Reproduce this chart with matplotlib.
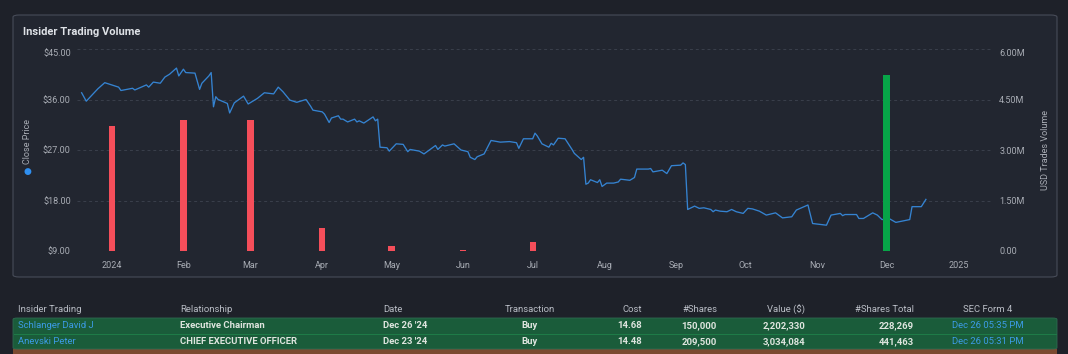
import matplotlib
matplotlib.use("Agg")
import matplotlib.pyplot as plt
import matplotlib.dates as mdates
from matplotlib.patches import FancyBboxPatch, Rectangle
from matplotlib.ticker import FuncFormatter, FixedLocator
import pandas as pd

plt.rcParams.update({"font.family": ["Roboto", "DejaVu Sans"], "font.size": 6})

# ---- data ----
price_dates = [
    "2023-12-19", "2023-12-21", "2023-12-26", "2023-12-29", "2024-01-04", "2024-01-05",
    "2024-01-10", "2024-01-11", "2024-01-16", "2024-01-17", "2024-01-19", "2024-01-22",
    "2024-01-24", "2024-01-26", "2024-01-29", "2024-01-30", "2024-02-01", "2024-02-02",
    "2024-02-06", "2024-02-08", "2024-02-09", "2024-02-12", "2024-02-13", "2024-02-14",
    "2024-02-15", "2024-02-16", "2024-02-20", "2024-02-21", "2024-02-23", "2024-02-27",
    "2024-02-29", "2024-03-04", "2024-03-07", "2024-03-11", "2024-03-13", "2024-03-15",
    "2024-03-18", "2024-03-21", "2024-03-25", "2024-03-27", "2024-03-28", "2024-04-01",
    "2024-04-02", "2024-04-04", "2024-04-05", "2024-04-08", "2024-04-09", "2024-04-10",
    "2024-04-12", "2024-04-15", "2024-04-16", "2024-04-17", "2024-04-19", "2024-04-23",
    "2024-04-24", "2024-04-25", "2024-04-26", "2024-04-29", "2024-04-30", "2024-05-03",
    "2024-05-06", "2024-05-08", "2024-05-09", "2024-05-13", "2024-05-15", "2024-05-20",
    "2024-05-21", "2024-05-23", "2024-05-24", "2024-05-28", "2024-05-31", "2024-06-03",
    "2024-06-04", "2024-06-06", "2024-06-07", "2024-06-10", "2024-06-13", "2024-06-17",
    "2024-06-21", "2024-06-24", "2024-06-25", "2024-06-27", "2024-07-01", "2024-07-02",
    "2024-07-03", "2024-07-05", "2024-07-08", "2024-07-09", "2024-07-10", "2024-07-12",
    "2024-07-15", "2024-07-18", "2024-07-19", "2024-07-22", "2024-07-23", "2024-07-24",
    "2024-07-25", "2024-07-26", "2024-07-29", "2024-07-30", "2024-07-31", "2024-08-02",
    "2024-08-05", "2024-08-07", "2024-08-08", "2024-08-12", "2024-08-14", "2024-08-15",
    "2024-08-20", "2024-08-21", "2024-08-22", "2024-08-26", "2024-08-28", "2024-08-30",
    "2024-09-03", "2024-09-04", "2024-09-05", "2024-09-06", "2024-09-09", "2024-09-11",
    "2024-09-13", "2024-09-16", "2024-09-17", "2024-09-18", "2024-09-20", "2024-09-23",
    "2024-09-25", "2024-09-27", "2024-09-30", "2024-10-02", "2024-10-04", "2024-10-07",
    "2024-10-10", "2024-10-14", "2024-10-17", "2024-10-21", "2024-10-23", "2024-10-28",
    "2024-10-30", "2024-11-01", "2024-11-05", "2024-11-07", "2024-11-11", "2024-11-12",
    "2024-11-13", "2024-11-18", "2024-11-19", "2024-11-21", "2024-11-25", "2024-11-27",
    "2024-11-29", "2024-12-02", "2024-12-05", "2024-12-11", "2024-12-12", "2024-12-16",
    "2024-12-18",
]
close_price = [
    37.2, 35.7, 37.9, 39.0, 38.2, 37.6,
    38.0, 37.7, 38.6, 38.2, 39.1, 38.9,
    40.0, 40.5, 41.6, 40.2, 41.4, 40.8,
    40.7, 37.8, 38.9, 40.2, 40.8, 34.7,
    36.5, 36.0, 35.3, 33.6, 35.4, 36.6,
    35.2, 36.2, 37.2, 37.0, 38.2, 37.4,
    35.9, 35.5, 36.0, 34.8, 34.1, 33.8,
    33.4, 31.9, 32.7, 33.1, 32.5, 32.5,
    32.0, 32.5, 32.0, 32.2, 31.8, 32.9,
    32.2, 32.5, 27.5, 27.4, 26.8, 28.1,
    28.0, 26.7, 27.1, 26.8, 26.3, 27.8,
    27.1, 27.9, 27.7, 28.1, 27.0, 26.7,
    25.7, 25.3, 25.8, 26.3, 28.7, 28.4,
    28.5, 28.3, 27.3, 29.0, 29.0, 30.0,
    29.5, 28.1, 27.5, 28.2, 27.9, 29.1,
    29.0, 27.1, 26.4, 25.3, 25.7, 20.9,
    21.1, 21.7, 21.2, 21.7, 20.5, 21.1,
    21.1, 21.3, 21.8, 21.6, 22.1, 23.6,
    23.6, 23.7, 23.1, 23.4, 22.8, 24.2,
    24.3, 24.7, 24.4, 16.4, 17.0, 16.6,
    16.7, 16.4, 16.0, 16.3, 16.1, 16.0,
    16.4, 16.0, 15.7, 16.6, 16.5, 16.1,
    15.4, 15.8, 14.9, 15.1, 16.3, 17.2,
    13.9, 13.8, 13.6, 15.4, 15.7, 15.3,
    15.5, 15.5, 14.8, 14.8, 15.8, 15.4,
    14.6, 14.8, 14.1, 14.6, 16.9, 16.9,
    18.2,
]
vol_months = ["2024-01-01", "2024-02-01", "2024-03-01", "2024-04-01", "2024-05-01",
              "2024-06-01", "2024-07-01", "2024-11-01", "2024-12-01"]
vol_usd = [3.71e6, 3.89e6, 3.89e6, 0.69e6, 0.15e6, 0.04e6, 0.27e6, 0.01e6, 5.24e6]
vol_side = ["sell", "sell", "sell", "sell", "sell", "sell", "sell", "sell", "buy"]

headers = ["Insider Trading", "Relationship", "Date", "Transaction", "Cost",
           "#Shares", "Value ($)", "#Shares Total", "SEC Form 4"]
insiders = ["Schlanger David J", "Anevski Peter"]
relationships = ["Executive Chairman", "CHIEF EXECUTIVE OFFICER"]
trade_dates = ["Dec 26 '24", "Dec 23 '24"]
transactions = ["Buy", "Buy"]
costs = ["14.68", "14.48"]
n_shares = ["150,000", "209,500"]
values_usd = ["2,202,330", "3,034,084"]
shares_total = ["228,269", "441,463"]
sec_forms = ["Dec 26 05:35 PM", "Dec 26 05:31 PM"]

W, H = 1068, 354
BG = "#1e2129"
PANEL = "#222630"
EDGE = "#474c58"
TICK = "#a9adb5"
GRID = "#3a3f4b"
RED = "#f54e5a"
GREEN = "#07a548"
BLUE = "#3583d1"

fx = lambda x: x / W
fy = lambda y: 1 - y / H

fig = plt.figure(figsize=(W / 100, H / 100), dpi=100, facecolor=BG)

# card behind the chart
fig.patches.append(FancyBboxPatch((fx(13), fy(277)), fx(1057) - fx(13), fy(15) - fy(277),
                                  boxstyle="round,pad=0,rounding_size=0.006",
                                  transform=fig.transFigure, fc=PANEL, ec=EDGE, lw=0.8,
                                  zorder=-5))
fig.text(fx(23), fy(32), "Insider Trading Volume", color="#dfe2e7", fontsize=8,
         fontweight="bold", va="center", ha="left")

ax = fig.add_axes([fx(77), fy(251), fx(993) - fx(77), fy(49) - fy(251)])
ax.set_facecolor("none")
ax.plot(pd.to_datetime(price_dates), close_price, color=BLUE, lw=0.95, zorder=2)
ax.set_ylim(9, 45)
ax.set_xlim(pd.Timestamp("2023-12-17"), pd.Timestamp("2025-01-16"))
ax.yaxis.set_major_locator(FixedLocator([9, 18, 27, 36, 45]))
ax.yaxis.set_major_formatter(FuncFormatter(lambda v, p: f"${v:.2f}"))
ax.grid(axis="y", color=GRID, ls=(0, (3, 3)), lw=0.7)
ax.xaxis.set_major_locator(mdates.MonthLocator())
ax.xaxis.set_major_formatter(FuncFormatter(
    lambda v, p: mdates.num2date(v).strftime("%Y" if mdates.num2date(v).month == 1 else "%b")))

ax2 = ax.twinx()
ax2.set_facecolor("none")
ax2.bar(pd.to_datetime(vol_months), vol_usd, width=2.7,
        color=[GREEN if s == "buy" else RED for s in vol_side], zorder=3)
ax2.set_ylim(0, 6e6)
ax2.yaxis.set_major_locator(FixedLocator([0, 1.5e6, 3e6, 4.5e6, 6e6]))
ax2.yaxis.set_major_formatter(FuncFormatter(lambda v, p: "0.00" if v == 0 else f"{v / 1e6:.2f}M"))

for a in (ax, ax2):
    for s in a.spines.values():
        s.set_visible(False)
    a.tick_params(length=0, colors=TICK, labelsize=6.5)
ax.tick_params(axis="x", pad=7.5)
ax.tick_params(axis="y", pad=4.5)
ax2.tick_params(axis="y", pad=4.5)
# top labels sit just under their gridline, as in the reference
ax.yaxis.get_major_ticks()[-1].label1.set_va("top")
ax2.yaxis.get_major_ticks()[-1].label2.set_va("top")

# axis titles
fig.text(fx(27), fy(141), "Close Price", rotation=90, color=TICK, fontsize=6.5,
         ha="center", va="center")
fig.text(fx(27), fy(171), "\u25cf", color="#2f8ff0", fontsize=6.5, ha="center", va="center")
fig.text(fx(1045), fy(150), "USD Trades Volume", rotation=90, color=TICK, fontsize=6.5,
         ha="center", va="center")

# ---- insider table ----
col_x = [18, 180, 383, 530, 642, 717, 805, 914, 988]
col_ha = ["left", "left", "left", "center", "right", "right", "right", "right", "center"]
for x, h, t in zip(col_x, col_ha, headers):
    fig.text(fx(x), fy(310), t, color="#b9bdc5", fontsize=6.8, ha=h, va="center")

fig.patches.append(Rectangle((fx(13), fy(354)), fx(1057) - fx(13), fy(349) - fy(354),
                             transform=fig.transFigure, fc="#7b4a30", ec="none", zorder=-5))
fig.patches.append(FancyBboxPatch((fx(13), fy(349)), fx(1057) - fx(13), fy(318) - fy(349),
                                  boxstyle="round,pad=0,rounding_size=0.004",
                                  transform=fig.transFigure, fc="#1a5c3a", ec="#2f6a50", lw=0.6,
                                  zorder=-5))
fig.lines.append(plt.Line2D([fx(14), fx(1056)], [fy(333.5)] * 2, transform=fig.transFigure,
                            color="#1f7c48", lw=0.7, zorder=-4))

rows = zip(insiders, relationships, trade_dates, transactions, costs, n_shares,
           values_usd, shares_total, sec_forms)
for i, row in enumerate(rows):
    y = fy(325.5 + 16 * i)
    for j, (x, h, t) in enumerate(zip(col_x, col_ha, row)):
        link = j in (0, 8)
        fig.text(fx(x), y, t, color="#3c9be6" if link else "#dfe5df", fontsize=6.8,
                 fontweight="normal" if link else "bold", ha=h, va="center")

fig.savefig("out.png", dpi=100, facecolor=BG)
